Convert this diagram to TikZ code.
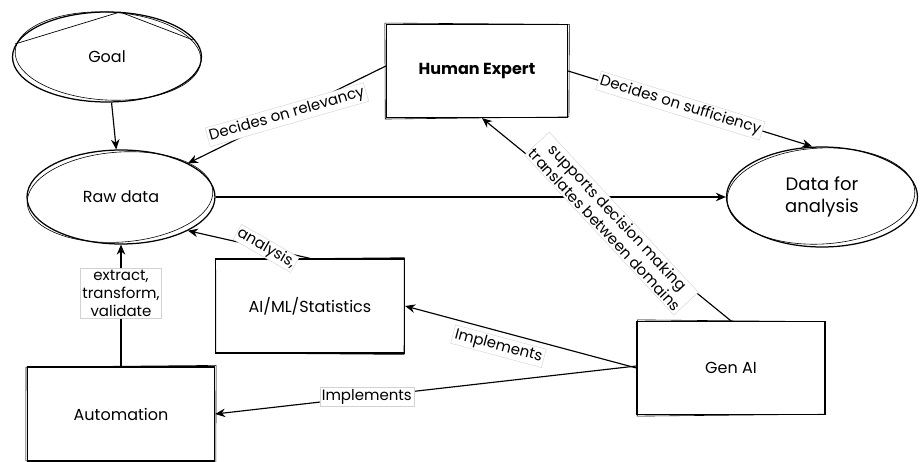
\documentclass[tikz,border=0pt]{standalone}
\usepackage{fontspec}
\setmainfont{Poppins}
\usetikzlibrary{arrows.meta,shapes.geometric}

\begin{document}
\begin{tikzpicture}[x=1pt,y=-1pt,
  font=\fontsize{16}{20}\selectfont,
  rough/.style={draw=black, line width=1.25pt},
  stroke2/.style={draw=black, line width=0.6pt},
  box/.style={rough, rectangle, align=center},
  blob/.style={rough, ellipse, align=center},
  arr/.style={line width=1.15pt, -{Stealth[length=10pt,width=8.5pt]}},
  lbl/.style={fill=white, draw=gray!35, line width=0.4pt, inner sep=2pt,
    align=center, font=\fontsize{15}{18}\selectfont, text=black}
]
\useasboundingbox (0,0) rectangle (923,462);

% nodes
\node[blob, minimum width=189pt, minimum height=90pt] (goal) at (107,57) {Goal};
\node[blob, minimum width=188pt, minimum height=94pt] (raw) at (121,197) {Raw data};
\node[box, minimum width=181pt, minimum height=93pt] (he) at (477,71) {\bfseries Human Expert};
\node[blob, minimum width=191pt, minimum height=100pt, font=\fontsize{18}{22}\selectfont] (data) at (822,197) {Data for\\analysis};
\node[box, minimum width=189pt, minimum height=94pt] (ai) at (310,306) {AI/ML/Statistics};
\node[box, minimum width=187pt, minimum height=94pt] (auto) at (121,414) {Automation};
\node[box, minimum width=188pt, minimum height=93pt] (gen) at (731,368) {Gen AI};

% second, slightly displaced pencil strokes round each shape
\draw[stroke2, rotate around={-3:(goal.center)}] ([shift={(1pt,1pt)}]goal.center) ellipse [x radius=93pt, y radius=44pt];
\draw[stroke2, rotate around={4:(raw.center)}] ([shift={(-1pt,0pt)}]raw.center) ellipse [x radius=93pt, y radius=45pt];
\draw[stroke2, rotate around={3:(data.center)}] ([shift={(-1pt,1pt)}]data.center) ellipse [x radius=94pt, y radius=48pt];
\foreach \n/\a/\b/\c/\d/\e/\f/\g/\h in {
    he/-1/0.8/1.2/-0.5/0.8/1.2/-0.6/-0.9,
    ai/0.8/-1/-0.9/0.7/-1.1/-0.8/1/0.6,
    auto/-0.9/-0.7/1/1/0.7/-1.1/-1/0.8,
    gen/1/1/-1.1/-0.8/-0.7/0.9/0.9/-1} {
  \draw[stroke2] ([shift={(\a pt,\b pt)}]\n.north west) -- ([shift={(\c pt,\d pt)}]\n.north east)
    -- ([shift={(\e pt,\f pt)}]\n.south east) -- ([shift={(\g pt,\h pt)}]\n.south west) -- cycle;
}

% stray sketch strokes across the top of the goal ellipse
\draw[line width=0.7pt] (15,44) -- (120,12) -- (193,40);

% connectors
\draw[arr] (goal) -- (raw);
\draw[arr] ([yshift=5pt]he.west) -- (raw.north east)
  node[lbl, pos=0.5, rotate=16] {Decides on relevancy};
\draw[arr] (he.east) -- ([xshift=-10pt]data.north)
  node[lbl, pos=0.46, sloped] {Decides on sufficiency};
\draw[arr] (raw.east) -- (data.west);
\draw[arr] (gen.north) -- ([xshift=5pt]he.south)
  node[lbl, pos=0.48, rotate=-47] {supports decision making\\translates between domains};
\draw[arr] (ai.north) -- (raw.south east)
  node[lbl, pos=0.36, rotate=-30, inner sep=1pt] {analysis,};
\draw[arr] (gen.west) -- (ai.east)
  node[lbl, pos=0.58, sloped, below=5pt] {Implements};
\draw[arr] ([yshift=2pt]gen.west) -- (auto.east)
  node[lbl, pos=0.64] {Implements};
\draw[arr] (auto.north) -- (raw.south)
  node[lbl, pos=0.6] {extract,\\transform,\\validate};
\end{tikzpicture}
\end{document}
